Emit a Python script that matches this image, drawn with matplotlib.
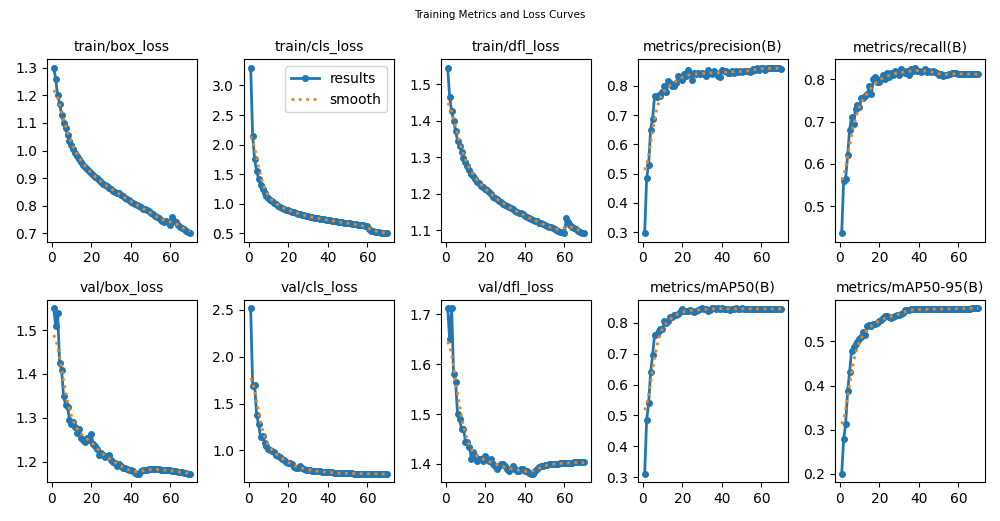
import numpy as np
import matplotlib
matplotlib.use("Agg")
import matplotlib.pyplot as plt
from matplotlib.ticker import MultipleLocator

epochs = list(range(1, 71))

train_box_loss = [1.30, 1.26, 1.20, 1.17, 1.13, 1.10, 1.08, 1.055, 1.035, 1.02,
                  1.005, 0.99, 0.98, 0.97, 0.957, 0.947, 0.94, 0.932, 0.925, 0.918,
                  0.91, 0.905, 0.90, 0.893, 0.887, 0.88, 0.875, 0.87, 0.865, 0.86,
                  0.855, 0.85, 0.848, 0.845, 0.84, 0.835, 0.83, 0.825, 0.82, 0.815,
                  0.81, 0.808, 0.802, 0.80, 0.795, 0.79, 0.79, 0.785, 0.78, 0.775,
                  0.77, 0.765, 0.76, 0.755, 0.75, 0.745, 0.74, 0.745, 0.74, 0.73,
                  0.76, 0.745, 0.74, 0.73, 0.725, 0.72, 0.715, 0.71, 0.705, 0.70]
train_cls_loss = [3.30, 2.15, 1.75, 1.56, 1.42, 1.32, 1.25, 1.19, 1.14, 1.10,
                  1.07, 1.04, 1.01, 0.99, 0.97, 0.95, 0.93, 0.92, 0.90, 0.89,
                  0.875, 0.865, 0.855, 0.845, 0.835, 0.825, 0.815, 0.805, 0.80, 0.79,
                  0.78, 0.775, 0.765, 0.76, 0.755, 0.75, 0.745, 0.74, 0.73, 0.725,
                  0.72, 0.715, 0.71, 0.705, 0.70, 0.695, 0.69, 0.685, 0.68, 0.675,
                  0.67, 0.665, 0.66, 0.655, 0.65, 0.645, 0.64, 0.635, 0.63, 0.62,
                  0.57, 0.55, 0.54, 0.53, 0.525, 0.52, 0.515, 0.51, 0.505, 0.50]
train_dfl_loss = [1.545, 1.465, 1.425, 1.40, 1.372, 1.345, 1.33, 1.315, 1.298, 1.288,
                  1.275, 1.265, 1.255, 1.248, 1.24, 1.232, 1.228, 1.222, 1.218, 1.214,
                  1.21, 1.205, 1.198, 1.192, 1.188, 1.185, 1.18, 1.176, 1.172, 1.17,
                  1.167, 1.163, 1.16, 1.157, 1.152, 1.15, 1.148, 1.146, 1.144, 1.14,
                  1.137, 1.134, 1.131, 1.128, 1.126, 1.124, 1.121, 1.119, 1.117, 1.115,
                  1.112, 1.11, 1.108, 1.105, 1.102, 1.10, 1.098, 1.096, 1.094, 1.091,
                  1.133, 1.122, 1.115, 1.11, 1.106, 1.102, 1.098, 1.095, 1.093, 1.092]
precision = [0.295, 0.485, 0.53, 0.65, 0.685, 0.765, 0.76, 0.77, 0.765, 0.78,
             0.80, 0.78, 0.815, 0.81, 0.80, 0.80, 0.81, 0.835, 0.83, 0.82,
             0.84, 0.835, 0.853, 0.84, 0.82, 0.845, 0.84, 0.845, 0.84, 0.845,
             0.84, 0.835, 0.855, 0.845, 0.84, 0.85, 0.845, 0.835, 0.83, 0.855,
             0.85, 0.85, 0.845, 0.845, 0.85, 0.845, 0.85, 0.848, 0.85, 0.848,
             0.85, 0.852, 0.85, 0.848, 0.85, 0.858, 0.855, 0.86, 0.855, 0.862,
             0.86, 0.855, 0.86, 0.862, 0.86, 0.86, 0.862, 0.86, 0.86, 0.858]
recall = [0.435, 0.56, 0.565, 0.62, 0.68, 0.71, 0.695, 0.73, 0.74, 0.735,
          0.755, 0.755, 0.76, 0.765, 0.785, 0.765, 0.80, 0.805, 0.795, 0.795,
          0.80, 0.81, 0.80, 0.815, 0.805, 0.815, 0.81, 0.82, 0.815, 0.81,
          0.825, 0.82, 0.815, 0.82, 0.81, 0.825, 0.82, 0.828, 0.82, 0.82,
          0.818, 0.82, 0.825, 0.818, 0.82, 0.818, 0.82, 0.818, 0.815, 0.81,
          0.812, 0.808, 0.81, 0.81, 0.812, 0.812, 0.815, 0.815, 0.815, 0.813,
          0.814, 0.812, 0.813, 0.813, 0.812, 0.812, 0.813, 0.812, 0.812, 0.814]
val_box_loss = [1.55, 1.51, 1.54, 1.425, 1.41, 1.35, 1.33, 1.325, 1.295, 1.285,
                1.29, 1.28, 1.265, 1.275, 1.255, 1.25, 1.245, 1.255, 1.25, 1.262,
                1.24, 1.235, 1.23, 1.215, 1.22, 1.215, 1.21, 1.212, 1.215, 1.205,
                1.20, 1.198, 1.19, 1.195, 1.19, 1.185, 1.185, 1.183, 1.18, 1.18,
                1.178, 1.175, 1.172, 1.172, 1.178, 1.18, 1.182, 1.182, 1.183, 1.183,
                1.183, 1.184, 1.183, 1.183, 1.182, 1.182, 1.181, 1.181, 1.180, 1.180,
                1.179, 1.178, 1.178, 1.177, 1.176, 1.176, 1.175, 1.174, 1.173, 1.172]
val_cls_loss = [2.52, 1.69, 1.70, 1.38, 1.28, 1.14, 1.15, 1.08, 1.05, 1.02,
                1.00, 0.99, 0.98, 0.95, 0.94, 0.93, 0.91, 0.90, 0.88, 0.87,
                0.865, 0.85, 0.82, 0.815, 0.81, 0.83, 0.81, 0.80, 0.795, 0.79,
                0.79, 0.785, 0.785, 0.78, 0.775, 0.775, 0.77, 0.77, 0.77, 0.768,
                0.765, 0.765, 0.76, 0.758, 0.757, 0.757, 0.756, 0.755, 0.755, 0.755,
                0.754, 0.754, 0.753, 0.753, 0.752, 0.752, 0.752, 0.751, 0.751, 0.751,
                0.750, 0.750, 0.750, 0.749, 0.749, 0.749, 0.749, 0.748, 0.748, 0.748]
val_dfl_loss = [1.712, 1.65, 1.712, 1.58, 1.565, 1.50, 1.49, 1.47, 1.47, 1.445,
                1.445, 1.435, 1.41, 1.425, 1.415, 1.405, 1.41, 1.41, 1.405, 1.415,
                1.41, 1.405, 1.41, 1.40, 1.395, 1.39, 1.395, 1.40, 1.40, 1.395,
                1.39, 1.385, 1.39, 1.395, 1.39, 1.385, 1.385, 1.39, 1.39, 1.385,
                1.385, 1.382, 1.38, 1.38, 1.385, 1.39, 1.393, 1.395, 1.395, 1.397,
                1.398, 1.40, 1.40, 1.40, 1.40, 1.40, 1.40, 1.402, 1.402, 1.402,
                1.402, 1.402, 1.402, 1.402, 1.403, 1.403, 1.403, 1.403, 1.403, 1.403]
map50 = [0.31, 0.485, 0.54, 0.64, 0.695, 0.76, 0.765, 0.775, 0.78, 0.78,
         0.805, 0.80, 0.805, 0.82, 0.82, 0.825, 0.825, 0.83, 0.835, 0.845,
         0.84, 0.84, 0.84, 0.842, 0.84, 0.835, 0.84, 0.842, 0.845, 0.848,
         0.845, 0.845, 0.84, 0.842, 0.848, 0.848, 0.846, 0.848, 0.846, 0.848,
         0.846, 0.845, 0.845, 0.843, 0.846, 0.846, 0.847, 0.846, 0.846, 0.847,
         0.846, 0.846, 0.845, 0.846, 0.845, 0.846, 0.845, 0.846, 0.846, 0.846,
         0.845, 0.846, 0.846, 0.846, 0.845, 0.846, 0.846, 0.846, 0.846, 0.846]
map50_95 = [0.20, 0.278, 0.313, 0.387, 0.43, 0.478, 0.487, 0.493, 0.498, 0.505,
            0.51, 0.52, 0.515, 0.535, 0.537, 0.535, 0.54, 0.54, 0.542, 0.545,
            0.548, 0.553, 0.558, 0.557, 0.556, 0.552, 0.555, 0.558, 0.56, 0.56,
            0.562, 0.565, 0.57, 0.57, 0.571, 0.572, 0.572, 0.572, 0.572, 0.572,
            0.572, 0.572, 0.572, 0.573, 0.572, 0.572, 0.573, 0.573, 0.573, 0.573,
            0.573, 0.573, 0.573, 0.573, 0.573, 0.574, 0.574, 0.574, 0.574, 0.573,
            0.574, 0.574, 0.574, 0.574, 0.574, 0.574, 0.575, 0.575, 0.575, 0.575]

titles = ["train/box_loss", "train/cls_loss", "train/dfl_loss",
          "metrics/precision(B)", "metrics/recall(B)",
          "val/box_loss", "val/cls_loss", "val/dfl_loss",
          "metrics/mAP50(B)", "metrics/mAP50-95(B)"]
series = [train_box_loss, train_cls_loss, train_dfl_loss, precision, recall,
          val_box_loss, val_cls_loss, val_dfl_loss, map50, map50_95]
y_steps = [0.1, 0.5, 0.1, 0.1, 0.1, 0.1, 0.5, 0.1, 0.1, 0.1]


def gaussian_smooth(y, sigma=3.0, truncate=4.0):
    y = np.asarray(y, dtype=float)
    r = int(truncate * sigma + 0.5)
    k = np.arange(-r, r + 1)
    w = np.exp(-0.5 * (k / sigma) ** 2)
    w /= w.sum()
    yp = np.pad(y, r, mode="symmetric")
    return np.convolve(yp, w, mode="valid")


fig, axes = plt.subplots(2, 5, figsize=(10, 5.21), dpi=100)
axes = axes.ravel()
x = np.array(epochs)
for ax, t, y, st in zip(axes, titles, series, y_steps):
    ax.plot(x, y, marker=".", label="results", linewidth=2, markersize=8)
    ax.plot(x, gaussian_smooth(y), ":", label="smooth", linewidth=2)
    ax.set_title(t, fontsize=10)
    ax.set_xticks([0, 20, 40, 60])
    ax.yaxis.set_major_locator(MultipleLocator(st))
axes[1].legend()
fig.suptitle("Training Metrics and Loss Curves", fontsize=7.5)
fig.tight_layout()
fig.savefig("out.png", dpi=100)
